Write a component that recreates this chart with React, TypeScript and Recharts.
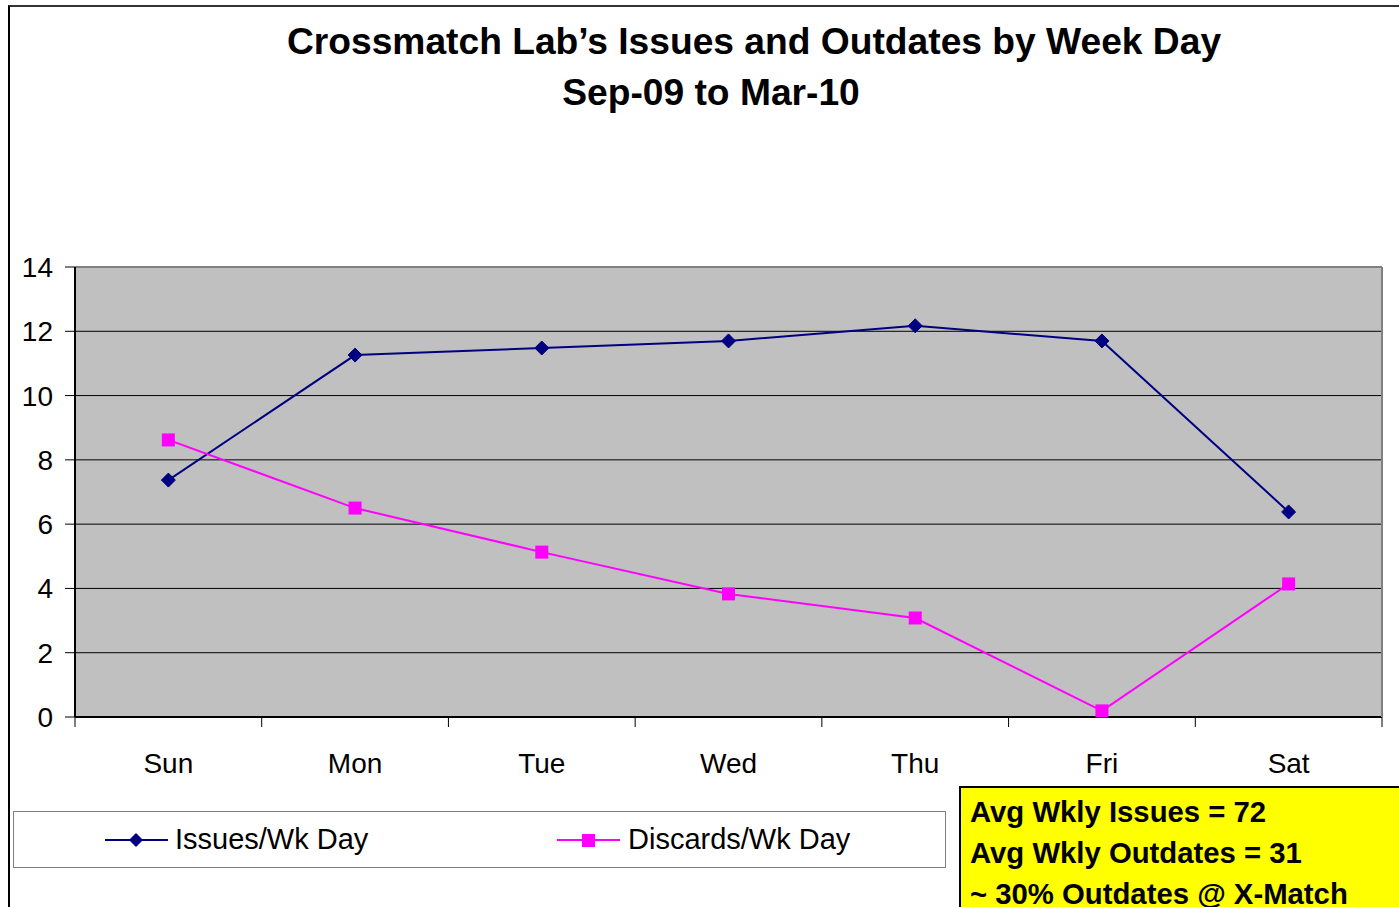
import React from 'react';
import { LineChart, Line, XAxis, YAxis, CartesianGrid, Legend, ReferenceLine } from 'recharts';

const days = ['Sun', 'Mon', 'Tue', 'Wed', 'Thu', 'Fri', 'Sat'];
const issues = [7.37, 11.26, 11.48, 11.7, 12.17, 11.7, 6.38];
const discards = [8.62, 6.5, 5.13, 3.83, 3.08, 0.19, 4.14];
const yTicks = [0, 2, 4, 6, 8, 10, 12, 14];
const summaryLines = ['Avg Wkly Issues = 72', 'Avg Wkly Outdates = 31', '~ 30% Outdates @ X-Match'];

const FONT = '"Liberation Sans", Arial, sans-serif';
const NAVY = '#000080';
const MAGENTA = '#FF00FF';

const data = days.map((day, i) => ({ day, issues: issues[i], discards: discards[i] }));

const Diamond = (props: any) => {
  const { cx, cy, index } = props;
  if (cx == null || cy == null) return <g key={`d-${index}`} />;
  const r = 7;
  return (
    <path
      key={`d-${index}`}
      d={`M${cx},${cy - r}L${cx + r},${cy}L${cx},${cy + r}L${cx - r},${cy}Z`}
      fill={NAVY}
      stroke={NAVY}
    />
  );
};

const Square = (props: any) => {
  const { cx, cy, index } = props;
  if (cx == null || cy == null) return <g key={`s-${index}`} />;
  const h = 6.5;
  return <rect key={`s-${index}`} x={cx - h} y={cy - h} width={h * 2} height={h * 2} fill={MAGENTA} />;
};

// category label in the band centre, tick marks on the band edges (Excel style)
const DayTick = (props: any) => {
  const { x, y, payload, index, width, visibleTicksCount } = props;
  const half = payload && payload.offset ? payload.offset : Number(width) / visibleTicksCount / 2;
  const last = index === visibleTicksCount - 1;
  return (
    <g>
      <line x1={x - half} x2={x - half} y1={y} y2={y + 10} stroke="#000" strokeWidth={1} />
      {last && <line x1={x + half} x2={x + half} y1={y} y2={y + 10} stroke="#000" strokeWidth={1} />}
      <text x={x} y={y + 36} dy="0.71em" textAnchor="middle" fontSize={28} fontFamily={FONT} fill="#000">
        {payload.value}
      </text>
    </g>
  );
};

const renderLegend = () => (
  <div
    style={{
      width: 931,
      height: 55,
      border: '1px solid #808080',
      background: '#fff',
      position: 'relative',
      fontFamily: FONT,
      fontSize: 29,
      color: '#000',
    }}
  >
    <svg width={70} height={20} style={{ position: 'absolute', left: 91, top: 18 }}>
      <line x1={0} y1={10} x2={63} y2={10} stroke={NAVY} strokeWidth={2} />
      <path d="M31,3L38,10L31,17L24,10Z" fill={NAVY} />
    </svg>
    <span style={{ position: 'absolute', left: 161, top: 11 }}>Issues/Wk Day</span>
    <svg width={70} height={20} style={{ position: 'absolute', left: 543, top: 18 }}>
      <line x1={0} y1={10} x2={63} y2={10} stroke={MAGENTA} strokeWidth={2} />
      <rect x={25} y={4} width={13} height={13} fill={MAGENTA} />
    </svg>
    <span style={{ position: 'absolute', left: 614, top: 11 }}>Discards/Wk Day</span>
  </div>
);

export default function App() {
  return (
    <div style={{ position: 'absolute', left: 0, top: 0, width: 1399, height: 907, overflow: 'hidden', background: '#fff', fontFamily: FONT }}>
      <div style={{ position: 'absolute', left: 8, top: 5, width: 1500, height: 1000, borderLeft: '2px solid #000', borderTop: '2px solid #333' }} />

      <div style={{ position: 'absolute', left: 0, width: 1508, top: 20, textAlign: 'center', fontSize: 37.2, fontWeight: 'bold', color: '#000' }}>
        Crossmatch Lab’s Issues and Outdates by Week Day
      </div>
      <div style={{ position: 'absolute', left: 0, width: 1422, top: 71, textAlign: 'center', fontSize: 37.2, fontWeight: 'bold', color: '#000' }}>
        Sep-09 to Mar-10
      </div>

      <div style={{ position: 'absolute', left: 0, top: 0 }}>
        <LineChart width={1399} height={907} data={data} margin={{ top: 267, right: 16, bottom: 72, left: 15 }}>
          <CartesianGrid vertical={false} fill="#C0C0C0" stroke="#000" strokeWidth={1} />
          <XAxis
            dataKey="day"
            scale="band"
            height={61}
            interval={0}
            axisLine={{ stroke: '#000', strokeWidth: 2 }}
            tickLine={false}
            tickSize={0}
            tickMargin={0}
            tick={DayTick}
          />
          <YAxis
            domain={[0, 14]}
            ticks={yTicks}
            width={60}
            tickSize={10}
            tickMargin={12}
            axisLine={{ stroke: '#000', strokeWidth: 2 }}
            tickLine={{ stroke: '#000' }}
            tick={{ fill: '#000', fontSize: 28, fontFamily: FONT }}
          />
          <YAxis
            yAxisId="r"
            orientation="right"
            domain={[0, 14]}
            width={1}
            tick={false}
            tickLine={false}
            axisLine={{ stroke: '#808080', strokeWidth: 2 }}
          />
          <ReferenceLine y={14} stroke="#808080" strokeWidth={2} />
          <Line
            dataKey="issues"
            name="Issues/Wk Day"
            stroke={NAVY}
            strokeWidth={2}
            dot={Diamond}
            activeDot={false}
            isAnimationActive={false}
          />
          <Line
            dataKey="discards"
            name="Discards/Wk Day"
            stroke={MAGENTA}
            strokeWidth={2}
            dot={Square}
            activeDot={false}
            isAnimationActive={false}
          />
          <Legend content={renderLegend} wrapperStyle={{ left: 13, top: 811, width: 933, height: 57, bottom: 'auto' }} />
        </LineChart>
      </div>

      <div
        style={{
          position: 'absolute',
          left: 959,
          top: 786,
          width: 500,
          height: 200,
          background: '#FFFF00',
          border: '2px solid #000',
          padding: '3px 0 0 9px',
          boxSizing: 'border-box',
          fontSize: 29.3,
          fontWeight: 'bold',
          lineHeight: '41px',
          color: '#000',
        }}
      >
        {summaryLines.map((t) => (
          <div key={t} style={{ whiteSpace: 'nowrap' }}>{t}</div>
        ))}
      </div>
    </div>
  );
}
